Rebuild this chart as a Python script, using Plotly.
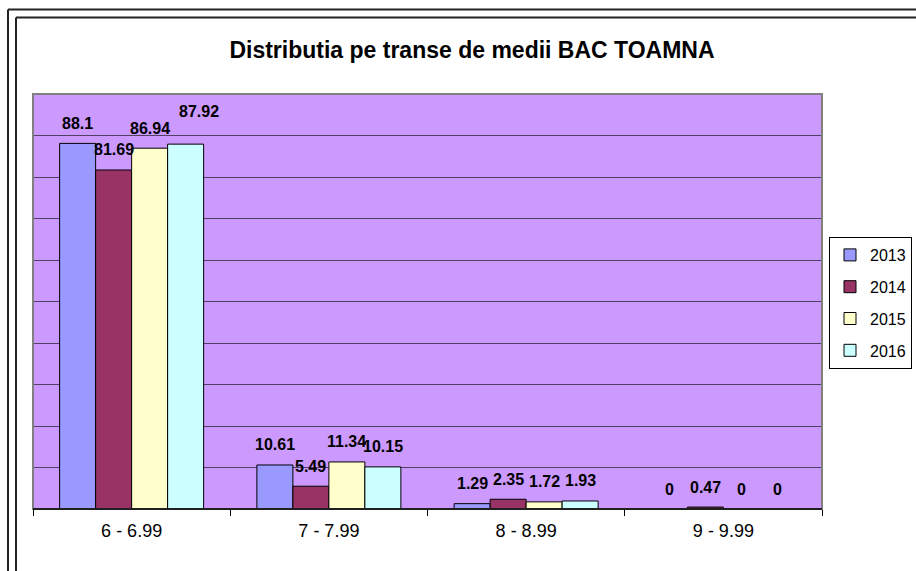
import plotly.graph_objects as go

categories = ["6 - 6.99", "7 - 7.99", "8 - 8.99", "9 - 9.99"]
years = ["2013", "2014", "2015", "2016"]
v2013 = [88.1, 10.61, 1.29, 0]
v2014 = [81.69, 5.49, 2.35, 0.47]
v2015 = [86.94, 11.34, 1.72, 0]
v2016 = [87.92, 10.15, 1.93, 0]
series = [v2013, v2014, v2015, v2016]
colors = ["#9999FF", "#993366", "#FFFFCC", "#CCFFFF"]

W, H = 916, 571
L, R, T, B = 33, 94, 94, 62
pw, ph = W - L - R, H - T - B

def px_x(px):
    return (px - L) / pw

def px_y(py):
    return (H - B - py) / ph

FONT = "Liberation Sans, Arial"

fig = go.Figure()
for i, (name, vals) in enumerate(zip(years, series)):
    fig.add_trace(go.Bar(
        x=categories, y=vals, name=name,
        marker=dict(color=colors[i], line=dict(color="black", width=1)),
        legendgroup=name,
    ))

# data labels
bar_w = pw / len(categories) * (1 - 0.27) / 4
annotations = []
for i, vals in enumerate(series):
    off = (i - 1.5) * bar_w
    for j, v in enumerate(vals):
        xs, ys = off, 20
        if i == 3 and j == 0:
            xs, ys = off + 13, 33
        annotations.append(dict(
            x=categories[j], y=v, xref="x", yref="y",
            text=f"{v:g}", showarrow=False,
            xshift=xs, yshift=ys, yanchor="middle",
            font=dict(family=FONT, size=16, color="black", weight="bold"),
        ))

shapes = [
    # plot area border (gray)
    dict(type="rect", xref="paper", yref="paper", x0=0, x1=1, y0=0, y1=1,
         line=dict(color="#808080", width=2), layer="above"),
    # outer double frame
    dict(type="line", xref="paper", yref="paper", x0=px_x(8), x1=px_x(8), y0=px_y(9.5), y1=px_y(575),
         line=dict(color="#222222", width=2)),
    dict(type="line", xref="paper", yref="paper", x0=px_x(8), x1=px_x(920), y0=px_y(9.5), y1=px_y(9.5),
         line=dict(color="#222222", width=2)),
    dict(type="line", xref="paper", yref="paper", x0=px_x(16), x1=px_x(16), y0=px_y(17.5), y1=px_y(575),
         line=dict(color="#222222", width=2)),
    dict(type="line", xref="paper", yref="paper", x0=px_x(16), x1=px_x(920), y0=px_y(17.5), y1=px_y(17.5),
         line=dict(color="#222222", width=2)),
    # bottom axis line
    dict(type="line", xref="paper", yref="paper", x0=0, x1=1, y0=0, y1=0,
         line=dict(color="black", width=1.5), layer="above"),
]

fig.update_layout(
    width=W, height=H,
    margin=dict(l=L, r=R, t=T, b=B, autoexpand=False),
    paper_bgcolor="white",
    plot_bgcolor="#CC99FF",
    barmode="group", bargap=0.27, bargroupgap=0,
    font=dict(family=FONT, color="black"),
    title=dict(text="<b>Distributia pe transe de medii BAC TOAMNA</b>",
               x=472 / W, xref="container", xanchor="center",
               y=1 - 49.5 / H, yref="container", yanchor="middle",
               font=dict(size=23, family=FONT, color="black")),
    legend=dict(x=px_x(829), y=px_y(237), xanchor="left", yanchor="top",
                bordercolor="black", borderwidth=1, bgcolor="white",
                font=dict(size=16, family=FONT, color="black"),
                tracegroupgap=8, itemclick=False, itemdoubleclick=False),
    xaxis=dict(type="category", showgrid=False, ticks="outside", ticklen=6,
               tickcolor="black", tickson="boundaries", showline=False,
               tickfont=dict(size=18, family=FONT, color="black"),
               ticklabelstandoff=9, fixedrange=True),
    yaxis=dict(range=[0, 100], dtick=10, showticklabels=False, showgrid=True,
               gridcolor="#504064", gridwidth=1, zeroline=False, ticks="", fixedrange=True),
    annotations=annotations,
    shapes=shapes,
)

fig.write_html("out.html", config={"displayModeBar": False},
               post_script="document.body.style.margin='0px';document.body.style.overflow='hidden';")
